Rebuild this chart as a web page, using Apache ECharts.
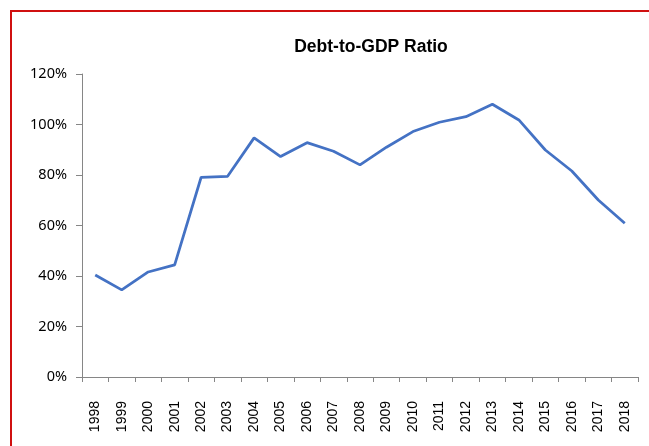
<!DOCTYPE html>
<html>
<head>
<meta charset="utf-8">
<script src="https://cdn.jsdelivr.net/npm/echarts@6/dist/echarts.min.js"></script>
<style>
html,body{margin:0;padding:0;background:#fff;overflow:hidden;}
#frame{position:absolute;left:10px;top:10px;width:700px;height:500px;border-left:2px solid #d01010;border-top:2px solid #d01010;box-sizing:border-box;}
#chart{position:absolute;left:0;top:0;width:649px;height:446px;}
</style>
</head>
<body>
<div id="frame"></div>
<div id="chart"></div>
<script>
const titleText = 'Debt-to-GDP Ratio';
const years = ['1998','1999','2000','2001','2002','2003','2004','2005','2006','2007','2008','2009','2010','2011','2012','2013','2014','2015','2016','2017','2018'];
const debtRatio = [40.4, 34.5, 41.6, 44.4, 79.1, 79.5, 94.7, 87.3, 92.8, 89.4, 84.0, 91.0, 97.2, 100.9, 103.1, 108.0, 101.8, 89.9, 81.6, 70.1, 60.9];
const yTicks = [0, 20, 40, 60, 80, 100, 120];

const chart = echarts.init(document.getElementById('chart'), null, {renderer: 'canvas'});
chart.setOption({
  backgroundColor: 'transparent',
  animation: false,
  title: {
    text: titleText,
    left: 366,
    top: 33,
    textAlign: 'center',
    textStyle: {fontFamily: '"Liberation Sans", Arial, sans-serif', fontWeight: 'bold', fontSize: 17.5, color: '#000'}
  },
  grid: {left: 82, right: 11, top: 74, bottom: 69, containLabel: false},
  xAxis: {
    type: 'category',
    data: years,
    boundaryGap: true,
    axisLine: {lineStyle: {color: '#868686', width: 1}},
    axisTick: {show: true, alignWithLabel: false, length: 5, lineStyle: {color: '#868686'}},
    axisLabel: {rotate: 90, margin: 24, fontSize: 14, color: '#000', fontFamily: '"Liberation Sans", Arial, sans-serif', interval: 0}
  },
  yAxis: {
    type: 'value',
    min: yTicks[0],
    max: yTicks[yTicks.length - 1],
    interval: 20,
    axisLine: {show: true, lineStyle: {color: '#868686', width: 1}},
    axisTick: {show: true, length: 6, lineStyle: {color: '#868686'}},
    splitLine: {show: false},
    axisLabel: {margin: 15, fontSize: 14.5, color: '#000', fontFamily: '"Noto Sans", "Liberation Sans", sans-serif', formatter: v => v + '%'}
  },
  series: [{
    type: 'line',
    data: debtRatio,
    symbol: 'none',
    lineStyle: {color: '#4472C4', width: 2.75},
    itemStyle: {color: '#4472C4'}
  }]
});
</script>
</body>
</html>
